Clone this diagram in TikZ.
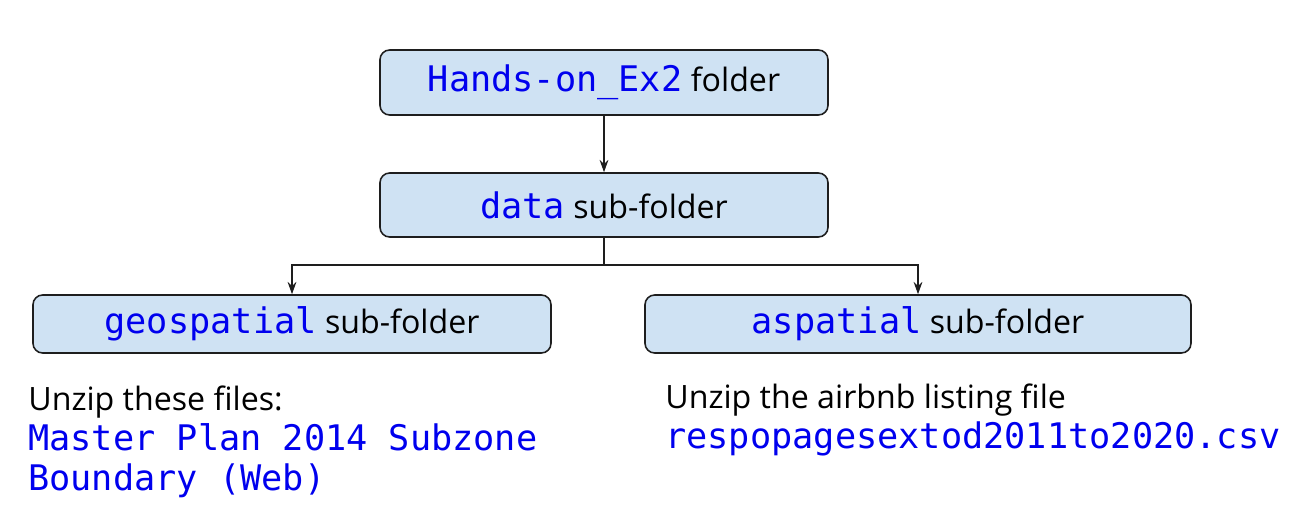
\documentclass[tikz,border=0pt]{standalone}
\usepackage{fontspec}
\setmainfont{Open Sans}
\newfontfamily\codefont{DejaVu Sans Mono}
\usepackage{tikz}
\usetikzlibrary{arrows.meta}
\usepackage{xcolor}
\definecolor{boxblue}{RGB}{207,226,243}
\definecolor{codeblue}{RGB}{0,0,238}
\definecolor{edgegrey}{RGB}{30,30,30}
\newcommand{\code}[1]{{\codefont\fontsize{20.05}{24}\selectfont\color{codeblue}#1}}

\begin{document}
\begin{tikzpicture}[font=\fontsize{18.3}{22}\selectfont,
    folderbox/.style={draw=edgegrey, line width=0.9pt, fill=boxblue,
      rounded corners=5.5pt, inner sep=0pt},
    link/.style={-{Stealth[length=7pt,width=5pt]}, line width=0.8pt, edgegrey}]

    % Page frame
    \useasboundingbox (0,0) rectangle (25.96,-10.34);

    % Folder boxes
    \node[folderbox, minimum width=8.96cm, minimum height=1.3cm] (handson)
      at (12.08,-1.65) {\code{Hands-on\_Ex2} folder};
    \node[folderbox, minimum width=8.96cm, minimum height=1.28cm] (data)
      at (12.08,-4.1) {\code{data} sub-folder};
    \node[folderbox, minimum width=10.36cm, minimum height=1.16cm] (geo)
      at (5.84,-6.48) {\code{geospatial} sub-folder};
    \node[folderbox, minimum width=10.92cm, minimum height=1.16cm] (asp)
      at (18.36,-6.48) {\code{aspatial} sub-folder};

    % Connectors
    \coordinate (split) at (12.08,-5.3);
    \draw[link] (handson) -- (data);
    \draw[line width=0.8pt, edgegrey] (data.south) -- (split);
    \draw[link] (split) -| (geo.north);
    \draw[link] (split) -| (asp.north);

    % Notes under the sub-folders
    \node[anchor=base west, inner sep=0pt] (geonote) at (0.56,-8.2)
      {Unzip these files:};
    \node[anchor=base west, inner sep=0pt] (geofileA) at (0.56,-9.0)
      {\code{Master Plan 2014 Subzone}};
    \node[anchor=base west, inner sep=0pt] (geofileB) at (0.56,-9.8)
      {\code{Boundary (Web)}};
    \node[anchor=base west, inner sep=0pt] (aspnote) at (13.3,-8.16)
      {Unzip the airbnb listing file};
    \node[anchor=base west, inner sep=0pt] (aspfile) at (13.3,-8.96)
      {\code{respopagesextod2011to2020.csv}};

  \end{tikzpicture}
\end{document}
